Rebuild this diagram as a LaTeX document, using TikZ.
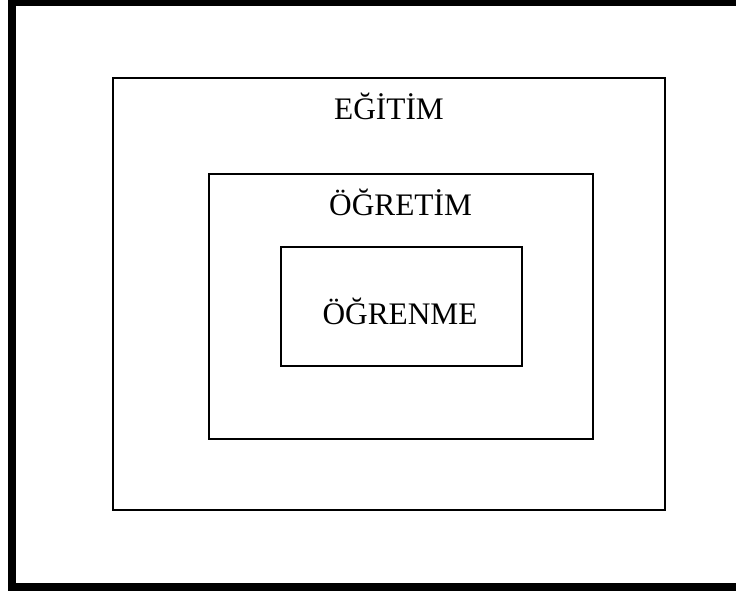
\documentclass[tikz,border=0pt]{standalone}
\usepackage{fontspec}
\setmainfont{Liberation Serif}
\usepackage{tikz}

\begin{document}
\begin{tikzpicture}[x=0.75pt,y=-0.75pt,
        box/.style={draw,line width=1.1pt},
        word/.style={anchor=base,inner sep=0pt,font=\fontsize{23.5}{28}\selectfont}]
        \useasboundingbox (0,0) rectangle (736,593);
        \clip (0,0) rectangle (736,593);
        \draw[line width=6pt] (12,2) rectangle (742,587);

        \draw[box] (113,78) rectangle (665,510);
        \draw[box] (209,174) rectangle (593,439);
        \draw[box] (281,247) rectangle (522,366);

        \node[word] (egitim) at (389,119) {EĞİTİM};
        \node[word] (ogretim) at (400.5,215) {ÖĞRETİM};
        \node[word] (ogrenme) at (400,324) {ÖĞRENME};
    \end{tikzpicture}
\end{document}
